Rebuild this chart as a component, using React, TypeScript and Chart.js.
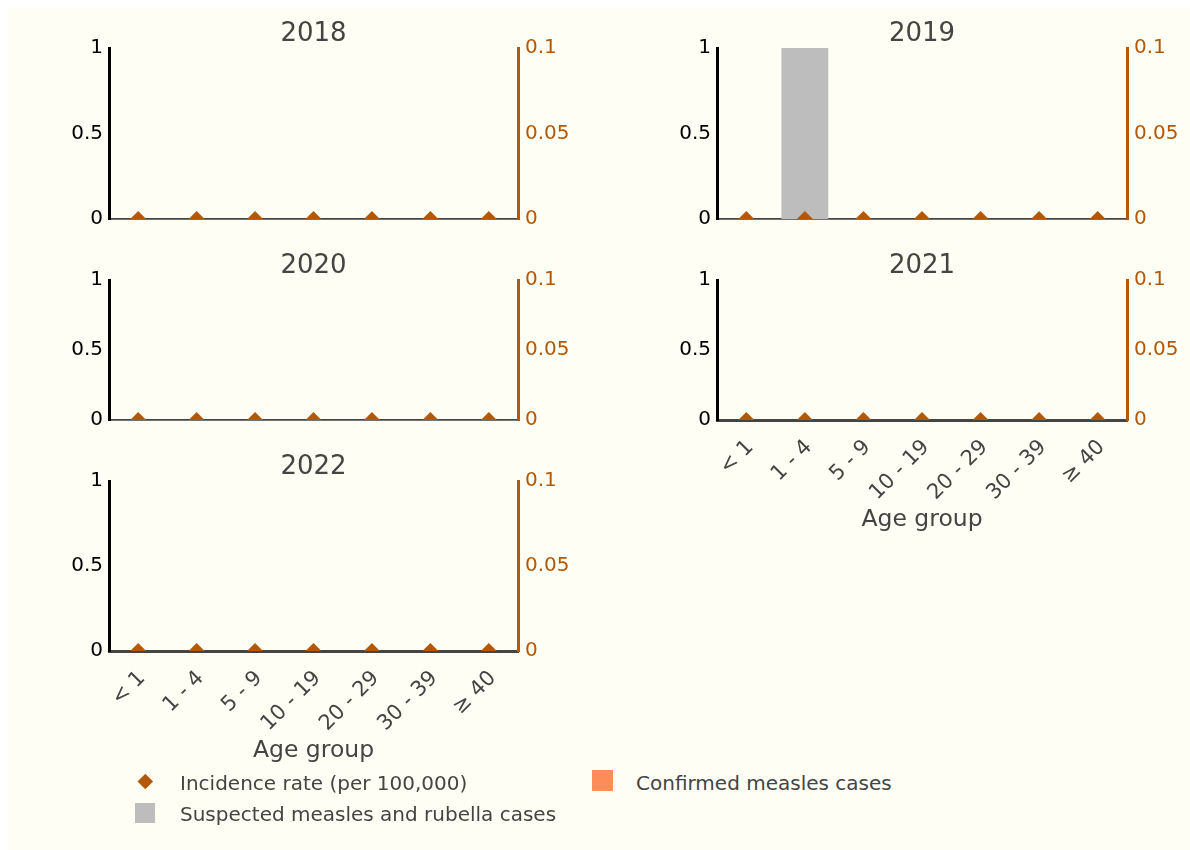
import React, { useEffect, useRef } from "react";
import { Chart, registerables } from "chart.js";

Chart.register(...registerables);

// ---------------- data ----------------
const ageGroups = ["< 1", "1 - 4", "5 - 9", "10 - 19", "20 - 29", "30 - 39", "≥ 40"];
const years = ["2018", "2019", "2020", "2021", "2022"];

// one row per year, one value per age group
const suspectedCases = [
  [0, 0, 0, 0, 0, 0, 0],
  [0, 1, 0, 0, 0, 0, 0],
  [0, 0, 0, 0, 0, 0, 0],
  [0, 0, 0, 0, 0, 0, 0],
  [0, 0, 0, 0, 0, 0, 0],
];
const confirmedCases = [
  [0, 0, 0, 0, 0, 0, 0],
  [0, 0, 0, 0, 0, 0, 0],
  [0, 0, 0, 0, 0, 0, 0],
  [0, 0, 0, 0, 0, 0, 0],
  [0, 0, 0, 0, 0, 0, 0],
];
const incidenceRate = [
  [0, 0, 0, 0, 0, 0, 0],
  [0, 0, 0, 0, 0, 0, 0],
  [0, 0, 0, 0, 0, 0, 0],
  [0, 0, 0, 0, 0, 0, 0],
  [0, 0, 0, 0, 0, 0, 0],
];
const leftTicks = [0, 0.5, 1];
const rightTicks = [0, 0.05, 0.1];

const seriesNames = [
  "Incidence rate (per 100,000)",
  "Suspected measles and rubella cases",
  "Confirmed measles cases",
];
const xAxisTitle = "Age group";

// ---------------- styles / layout ----------------
const FONT = "'DejaVu Sans', Verdana, sans-serif";
const BG = "#fefef5";
const INC = "#b35806";
const GREY = "#bdbdbd";
const ORANGE = "#fc8d59";
const TEXT = "#444444";

type Box = { left: number; top: number; w: number; h: number; bottom: boolean };
const boxes: Box[] = [
  { left: 101, top: 40, w: 409, h: 171, bottom: false },
  { left: 709, top: 40, w: 410, h: 171, bottom: false },
  { left: 101, top: 272, w: 409, h: 140, bottom: false },
  { left: 709, top: 272, w: 410, h: 140, bottom: true },
  { left: 101, top: 473, w: 409, h: 170, bottom: true },
];
const AXW = 60;
const TITLE_H = 40;
const XH_PLAIN = 22;
const XH_LABELLED = 114;

const fmt = (v: any) => String(+Number(v).toFixed(3));

function Panel({ index }: { index: number }) {
  const ref = useRef<HTMLCanvasElement | null>(null);
  const box = boxes[index];
  const xh = box.bottom ? XH_LABELLED : XH_PLAIN;
  const cw = box.w + 2 * AXW;
  const ch = TITLE_H + box.h + xh;

  useEffect(() => {
    if (!ref.current) return;
    const chart = new Chart(ref.current, {
      type: "bar",
      data: {
        labels: ageGroups,
        datasets: [
          {
            type: "line",
            label: seriesNames[0],
            data: incidenceRate[index],
            yAxisID: "y1",
            showLine: false,
            pointStyle: "rectRot",
            pointRadius: 8,
            pointHoverRadius: 8,
            pointBorderWidth: 0,
            pointBackgroundColor: INC,
            backgroundColor: INC,
            borderColor: INC,
            clip: 0,
          } as any,
          {
            type: "bar",
            label: seriesNames[1],
            data: suspectedCases[index],
            yAxisID: "y",
            backgroundColor: GREY,
            barPercentage: 0.8,
            categoryPercentage: 1,
            stack: "cases",
          },
          {
            type: "bar",
            label: seriesNames[2],
            data: confirmedCases[index],
            yAxisID: "y",
            backgroundColor: ORANGE,
            barPercentage: 0.8,
            categoryPercentage: 1,
            stack: "cases",
          },
        ],
      },
      options: {
        responsive: false,
        maintainAspectRatio: false,
        animation: false,
        layout: { padding: 0 },
        plugins: {
          legend: { display: false },
          tooltip: { enabled: false },
          title: {
            display: true,
            text: years[index],
            color: TEXT,
            font: { size: 26, family: FONT, weight: "normal", lineHeight: 1.2 },
            padding: { top: 10.8, bottom: -2 },
          },
        },
        scales: {
          x: {
            stacked: true,
            offset: true,
            grid: { display: false, drawTicks: false },
            border: { display: true, color: "#444444", width: box.bottom ? 3 : 1.8 },
            ticks: {
              display: box.bottom,
              autoSkip: false,
              maxRotation: 45,
              minRotation: 45,
              padding: 15,
              labelOffset: 4,
              color: TEXT,
              font: { size: 21, family: FONT },
            },
            title: {
              display: box.bottom,
              text: xAxisTitle,
              color: TEXT,
              font: { size: 23.5, family: FONT, lineHeight: 1.2 },
              padding: 0,
            },
            afterFit: (s: any) => {
              s.height = xh;
            },
          },
          y: {
            position: "left",
            stacked: true,
            min: 0,
            max: 1,
            grid: { display: false, drawTicks: false },
            border: { display: true, color: "#000000", width: 3 },
            ticks: {
              color: "#000000",
              padding: 6,
              font: { size: 20, family: FONT },
              callback: fmt,
            },
            afterBuildTicks: (s: any) => {
              s.ticks = leftTicks.map((v) => ({ value: v }));
            },
            afterFit: (s: any) => {
              s.width = AXW;
            },
          },
          y1: {
            position: "right",
            min: 0,
            max: 0.1,
            grid: { display: false, drawTicks: false },
            border: { display: true, color: INC, width: 3 },
            ticks: {
              color: INC,
              padding: 7,
              font: { size: 20, family: FONT },
              callback: fmt,
            },
            afterBuildTicks: (s: any) => {
              s.ticks = rightTicks.map((v) => ({ value: v }));
            },
            afterFit: (s: any) => {
              s.width = AXW;
            },
          },
        },
      } as any,
    });
    return () => chart.destroy();
  }, [index]);

  return (
    <canvas
      ref={ref}
      width={cw}
      height={ch}
      style={{
        position: "absolute",
        left: box.left - AXW,
        top: box.top - TITLE_H,
        width: cw,
        height: ch,
      }}
    />
  );
}

const legendText: React.CSSProperties = {
  position: "absolute",
  fontFamily: FONT,
  fontSize: 20,
  lineHeight: "20px",
  color: TEXT,
  whiteSpace: "nowrap",
};

export default function App() {
  useEffect(() => {
    document.documentElement.style.overflow = "hidden";
    document.body.style.overflow = "hidden";
  }, []);
  return (
    <>
      <div
        style={{
          position: "fixed",
          left: 8,
          top: 8,
          right: 0,
          bottom: 0,
          background: BG,
        }}
      />
      <div
        style={{
          position: "relative",
          width: 1182,
          height: 842,
          background: BG,
          overflow: "hidden",
          fontFamily: FONT,
        }}
      >
        {years.map((y, i) => (
          <Panel key={y} index={i} />
        ))}
        {/* legend */}
        <div
          style={{
            position: "absolute",
            left: 137 - 5.3,
            top: 773 - 5.3,
            width: 10.6,
            height: 10.6,
            background: INC,
            transform: "rotate(45deg)",
          }}
        />
        <div style={{ ...legendText, left: 172, top: 765 }}>{seriesNames[0]}</div>
        <div
          style={{ position: "absolute", left: 127, top: 795, width: 20, height: 20, background: GREY }}
        />
        <div style={{ ...legendText, left: 172, top: 796 }}>{seriesNames[1]}</div>
        <div
          style={{ position: "absolute", left: 584, top: 762, width: 21, height: 21, background: ORANGE }}
        />
        <div style={{ ...legendText, left: 628, top: 764.5 }}>{seriesNames[2]}</div>
      </div>
    </>
  );
}
